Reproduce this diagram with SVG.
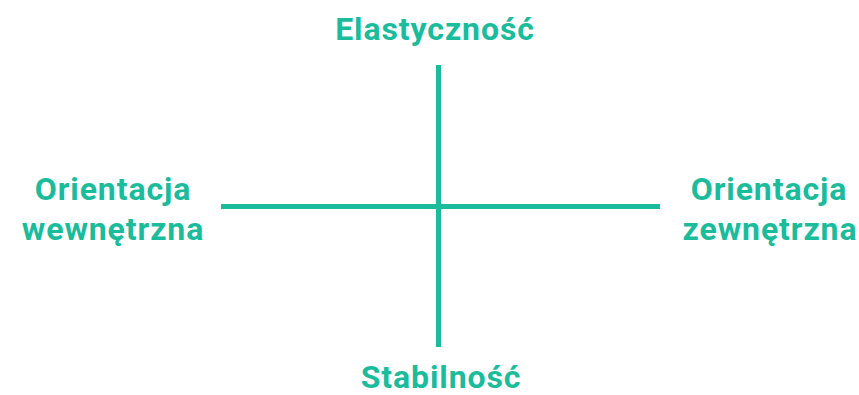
<svg xmlns="http://www.w3.org/2000/svg" width="859" height="395" viewBox="0 0 859 395">
<style>
.t{font-family:Roboto,"Liberation Sans",sans-serif;font-weight:bold;font-size:32px;letter-spacing:0.9px;fill:#1abc9c;text-anchor:middle}
.ax{stroke:#1abc9c;stroke-width:5;fill:none}
</style>
<rect width="859" height="395" fill="#fff"/>
<g id="connectors">
<line class="ax" x1="438.5" y1="65" x2="438.5" y2="347"/>
<line class="ax" x1="221" y1="206.5" x2="660" y2="206.5"/>
</g>
<g id="top"><text class="t" x="435" y="40">Elastyczność</text></g>
<g id="left"><text class="t" x="113" y="200">Orientacja</text><text class="t" x="113" y="240">wewnętrzna</text></g>
<g id="right"><text class="t" x="769" y="200">Orientacja</text><text class="t" x="770" y="240">zewnętrzna</text></g>
<g id="bottom"><text class="t" x="441" y="388">Stabilność</text></g>
</svg>
